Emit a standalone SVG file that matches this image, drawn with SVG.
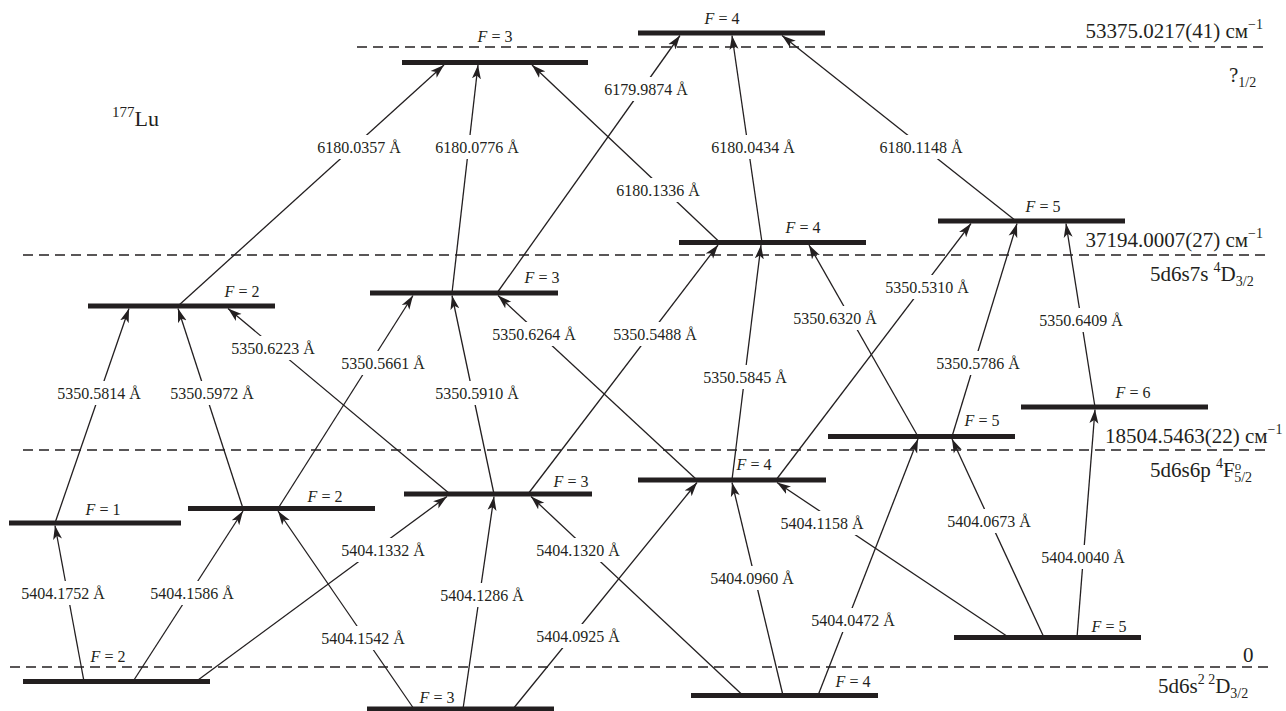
<svg xmlns="http://www.w3.org/2000/svg" width="1286" height="711" viewBox="0 0 1286 711">
<style>
text{font-family:"Liberation Serif","Times New Roman",serif;fill:#231f20}
.t{font-size:16px;text-anchor:middle}
.f{font-size:16px;text-anchor:middle}
.i{font-style:italic}
.big{font-size:21px}
.end{text-anchor:end}
.dash{stroke:#231f20;stroke-width:1.5;stroke-dasharray:10 6;fill:none}
.bar{fill:#231f20}
.ln{stroke:#231f20;stroke-width:1.3;fill:none;marker-end:url(#ah)}
.bg{fill:#fff}
</style>
<defs>
<marker id="ah" viewBox="0 0 14 10" refX="14" refY="5" markerWidth="14" markerHeight="10" orient="auto" markerUnits="userSpaceOnUse">
<path d="M14,5 L0,0.5 L3.5,5 L0,9.5 Z" fill="#231f20"/>
</marker>
</defs>
<rect width="1286" height="711" fill="#fff"/>

<g id="reference-lines">
<line class="dash" x1="357" y1="47" x2="1268" y2="47"/>
<line class="dash" x1="23" y1="255" x2="1266" y2="255"/>
<line class="dash" x1="23" y1="450" x2="1266" y2="450"/>
<line class="dash" x1="10" y1="667" x2="1268" y2="667"/>
</g>

<g id="connectors">
<line class="ln" x1="178" y1="306" x2="444" y2="65"/>
<line class="ln" x1="452" y1="293" x2="478" y2="65"/>
<line class="ln" x1="497" y1="293" x2="680" y2="35.5"/>
<line class="ln" x1="720" y1="242.5" x2="532" y2="65"/>
<line class="ln" x1="762" y1="242.5" x2="732" y2="35.5"/>
<line class="ln" x1="1016" y1="221" x2="782" y2="35.5"/>
<line class="ln" x1="55" y1="523" x2="129" y2="308.5"/>
<line class="ln" x1="243" y1="508.5" x2="178" y2="308.5"/>
<line class="ln" x1="450" y1="494" x2="228" y2="308.5"/>
<line class="ln" x1="278" y1="508.5" x2="413" y2="295.5"/>
<line class="ln" x1="494" y1="494" x2="452" y2="295.5"/>
<line class="ln" x1="697" y1="480" x2="498" y2="295.5"/>
<line class="ln" x1="528" y1="494" x2="718" y2="245"/>
<line class="ln" x1="732" y1="480" x2="761" y2="245"/>
<line class="ln" x1="918" y1="436.5" x2="809" y2="245"/>
<line class="ln" x1="776" y1="480" x2="971" y2="223.5"/>
<line class="ln" x1="952" y1="436.5" x2="1017" y2="223.5"/>
<line class="ln" x1="1095" y1="407" x2="1066" y2="223.5"/>
<line class="ln" x1="84" y1="681.5" x2="55" y2="525.5"/>
<line class="ln" x1="133" y1="681.5" x2="243" y2="511"/>
<line class="ln" x1="196" y1="681.5" x2="447" y2="496.5"/>
<line class="ln" x1="414" y1="709" x2="278" y2="511"/>
<line class="ln" x1="463" y1="709" x2="494" y2="496.5"/>
<line class="ln" x1="743" y1="695.5" x2="531" y2="496.5"/>
<line class="ln" x1="513" y1="709" x2="697" y2="482.5"/>
<line class="ln" x1="783" y1="695.5" x2="732" y2="482.5"/>
<line class="ln" x1="1009" y1="637.5" x2="777" y2="482.5"/>
<line class="ln" x1="818" y1="695.5" x2="918" y2="439"/>
<line class="ln" x1="1044" y1="637.5" x2="952" y2="439"/>
<line class="ln" x1="1077" y1="637.5" x2="1095" y2="409.5"/>

<g id="label-backgrounds">
<rect class="bg" x="315" y="135" width="88" height="24"/>
<rect class="bg" x="433" y="135" width="88" height="24"/>
<rect class="bg" x="602" y="77" width="88" height="24"/>
<rect class="bg" x="614" y="178" width="88" height="24"/>
<rect class="bg" x="709" y="135" width="88" height="24"/>
<rect class="bg" x="877" y="135" width="88" height="24"/>
<rect class="bg" x="55" y="381" width="88" height="24"/>
<rect class="bg" x="168" y="381" width="88" height="24"/>
<rect class="bg" x="229" y="336" width="88" height="24"/>
<rect class="bg" x="339" y="351" width="88" height="24"/>
<rect class="bg" x="433" y="381" width="88" height="24"/>
<rect class="bg" x="490" y="322" width="88" height="24"/>
<rect class="bg" x="611" y="322" width="88" height="24"/>
<rect class="bg" x="701" y="365" width="88" height="24"/>
<rect class="bg" x="791" y="306" width="88" height="24"/>
<rect class="bg" x="883" y="275" width="88" height="24"/>
<rect class="bg" x="934" y="351" width="88" height="24"/>
<rect class="bg" x="1037" y="308" width="88" height="24"/>
<rect class="bg" x="19" y="581" width="88" height="24"/>
<rect class="bg" x="148" y="581" width="88" height="24"/>
<rect class="bg" x="339" y="538" width="88" height="24"/>
<rect class="bg" x="319" y="626" width="88" height="24"/>
<rect class="bg" x="438" y="583" width="88" height="24"/>
<rect class="bg" x="534" y="538" width="88" height="24"/>
<rect class="bg" x="534" y="624" width="88" height="24"/>
<rect class="bg" x="708" y="566" width="88" height="24"/>
<rect class="bg" x="778" y="511" width="88" height="24"/>
<rect class="bg" x="809" y="608" width="88" height="24"/>
<rect class="bg" x="945" y="509" width="88" height="24"/>
<rect class="bg" x="1039" y="545" width="88" height="24"/>
</g>

<g id="connector-labels">
<text class="t" x="359" y="153">6180.0357 Å</text>
<text class="t" x="477" y="153">6180.0776 Å</text>
<text class="t" x="646" y="95">6179.9874 Å</text>
<text class="t" x="658" y="196">6180.1336 Å</text>
<text class="t" x="753" y="153">6180.0434 Å</text>
<text class="t" x="921" y="153">6180.1148 Å</text>
<text class="t" x="99" y="399">5350.5814 Å</text>
<text class="t" x="212" y="399">5350.5972 Å</text>
<text class="t" x="273" y="354">5350.6223 Å</text>
<text class="t" x="383" y="369">5350.5661 Å</text>
<text class="t" x="477" y="399">5350.5910 Å</text>
<text class="t" x="534" y="340">5350.6264 Å</text>
<text class="t" x="655" y="340">5350.5488 Å</text>
<text class="t" x="745" y="383">5350.5845 Å</text>
<text class="t" x="835" y="324">5350.6320 Å</text>
<text class="t" x="927" y="293">5350.5310 Å</text>
<text class="t" x="978" y="369">5350.5786 Å</text>
<text class="t" x="1081" y="326">5350.6409 Å</text>
<text class="t" x="63" y="599">5404.1752 Å</text>
<text class="t" x="192" y="599">5404.1586 Å</text>
<text class="t" x="383" y="556">5404.1332 Å</text>
<text class="t" x="363" y="644">5404.1542 Å</text>
<text class="t" x="482" y="601">5404.1286 Å</text>
<text class="t" x="578" y="556">5404.1320 Å</text>
<text class="t" x="578" y="642">5404.0925 Å</text>
<text class="t" x="752" y="584">5404.0960 Å</text>
<text class="t" x="822" y="529">5404.1158 Å</text>
<text class="t" x="853" y="626">5404.0472 Å</text>
<text class="t" x="989" y="527">5404.0673 Å</text>
<text class="t" x="1083" y="563">5404.0040 Å</text>
</g>
</g>

<g id="level-top-F3"><rect class="bar" x="402" y="60" width="186" height="5"/><text class="f" x="495" y="42"><tspan class="i">F</tspan> = 3</text></g>
<g id="level-top-F4"><rect class="bar" x="638" y="30.5" width="187" height="5"/><text class="f" x="722" y="24"><tspan class="i">F</tspan> = 4</text></g>
<g id="level-mid-F2"><rect class="bar" x="88" y="303.5" width="187" height="5"/><text class="f" x="242" y="297"><tspan class="i">F</tspan> = 2</text></g>
<g id="level-mid-F3"><rect class="bar" x="370" y="290.5" width="188" height="5"/><text class="f" x="542" y="283"><tspan class="i">F</tspan> = 3</text></g>
<g id="level-mid-F4"><rect class="bar" x="679" y="240" width="187" height="5"/><text class="f" x="803" y="233"><tspan class="i">F</tspan> = 4</text></g>
<g id="level-mid-F5"><rect class="bar" x="938" y="218.5" width="187" height="5"/><text class="f" x="1043" y="212"><tspan class="i">F</tspan> = 5</text></g>
<g id="level-low-F1"><rect class="bar" x="9" y="520.5" width="172" height="5"/><text class="f" x="103" y="515"><tspan class="i">F</tspan> = 1</text></g>
<g id="level-low-F2"><rect class="bar" x="188" y="506" width="187" height="5"/><text class="f" x="325" y="502"><tspan class="i">F</tspan> = 2</text></g>
<g id="level-low-F3"><rect class="bar" x="404" y="491.5" width="188" height="5"/><text class="f" x="571" y="487"><tspan class="i">F</tspan> = 3</text></g>
<g id="level-low-F4"><rect class="bar" x="638" y="477.5" width="188" height="5"/><text class="f" x="754" y="470"><tspan class="i">F</tspan> = 4</text></g>
<g id="level-low-F5"><rect class="bar" x="828" y="434" width="187" height="5"/><text class="f" x="982" y="426"><tspan class="i">F</tspan> = 5</text></g>
<g id="level-low-F6"><rect class="bar" x="1021" y="404.5" width="187" height="5"/><text class="f" x="1133" y="398"><tspan class="i">F</tspan> = 6</text></g>
<g id="level-ground-F2"><rect class="bar" x="23" y="679" width="187" height="5"/><text class="f" x="108" y="662"><tspan class="i">F</tspan> = 2</text></g>
<g id="level-ground-F3"><rect class="bar" x="367" y="706.5" width="187" height="5"/><text class="f" x="437" y="703"><tspan class="i">F</tspan> = 3</text></g>
<g id="level-ground-F4"><rect class="bar" x="691" y="693" width="187" height="5"/><text class="f" x="853" y="687"><tspan class="i">F</tspan> = 4</text></g>
<g id="level-ground-F5"><rect class="bar" x="954" y="635" width="187" height="5"/><text class="f" x="1109" y="632"><tspan class="i">F</tspan> = 5</text></g>

<g id="annotations">
<text x="112" y="126" style="font-size:22px"><tspan style="font-size:15px" dy="-9">177</tspan><tspan dy="9">Lu</tspan></text>
<text class="big end" x="1263" y="38">53375.0217(41) см<tspan style="font-size:14px" dy="-9">−1</tspan></text>
<text class="big" x="1229" y="82">?<tspan style="font-size:14px" dy="5">1/2</tspan></text>
<text class="big end" x="1263" y="247">37194.0007(27) см<tspan style="font-size:14px" dy="-9">−1</tspan></text>
<text class="big" x="1150" y="281">5d6s7s <tspan style="font-size:14px" dy="-9">4</tspan><tspan dy="9">D</tspan><tspan style="font-size:14px" dy="5">3/2</tspan></text>
<text class="big" x="1105" y="443">18504.5463(22) см<tspan style="font-size:14px" dy="-9">−1</tspan></text>
<text class="big" x="1150" y="477">5d6s6p <tspan style="font-size:14px" dy="-9">4</tspan><tspan dy="9">F</tspan><tspan style="font-size:13px" dy="-7">o</tspan><tspan style="font-size:14px" dx="-7" dy="12">5/2</tspan></text>
<text class="big" x="1243" y="662">0</text>
<text class="big" x="1158" y="693">5d6s<tspan style="font-size:14px" dy="-9">2</tspan><tspan style="font-size:14px" dy="0"> 2</tspan><tspan dy="9">D</tspan><tspan style="font-size:14px" dy="5">3/2</tspan></text>
</g>
</svg>
